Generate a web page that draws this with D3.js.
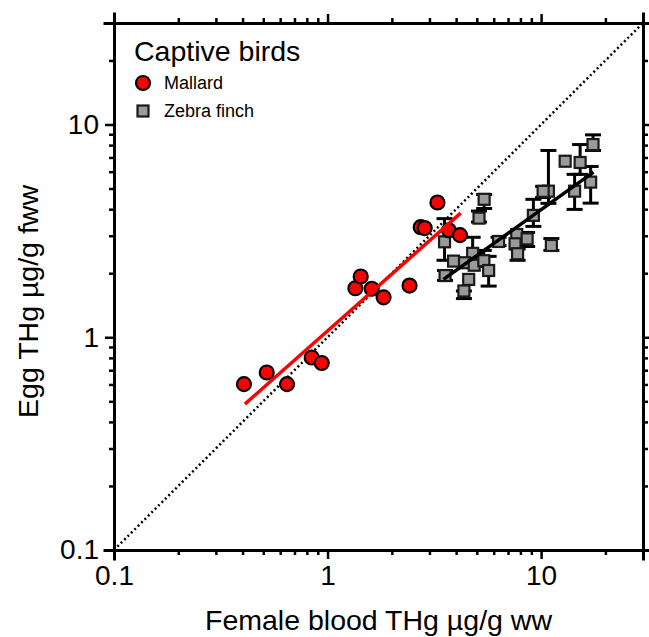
<!DOCTYPE html>
<html>
<head>
<meta charset="utf-8">
<script src="https://cdn.jsdelivr.net/npm/d3@7"></script>
<style>
  body { margin: 0; background: #fff; }
  text { font-family: Arial, "Liberation Sans", sans-serif; }
</style>
</head>
<body>
<div id="chart"></div>
<script>
// Mallard: female blood vs egg THg (one point per female)
let mallardBlood = [0.406, 0.519, 0.646, 0.843, 0.939, 1.35, 1.43, 1.61, 1.83, 2.42, 2.73, 2.85, 3.27, 3.70, 4.17];
let mallardEgg = [0.602, 0.683, 0.602, 0.803, 0.757, 1.70, 1.93, 1.69, 1.54, 1.75, 3.29, 3.26, 4.30, 3.18, 3.02];

// Zebra finch: means with error bar ends (low == high means no bar)
let finchBlood = [17.5, 12.96, 15.23, 17.06, 14.35, 10.82, 10.22, 9.20, 5.41, 5.12, 3.53, 6.32, 7.69, 8.60, 7.55, 7.76, 11.17, 4.78, 3.89, 4.38, 4.86, 5.39, 5.68, 3.55, 4.58, 4.35];
let finchEgg = [8.05, 6.72, 6.63, 5.36, 4.86, 4.86, 4.85, 3.74, 4.45, 3.63, 2.81, 2.82, 3.04, 2.90, 2.75, 2.47, 2.70, 2.48, 2.28, 2.24, 2.18, 2.29, 2.06, 1.95, 1.87, 1.65];
let finchLow = [7.55, 6.72, 5.83, 4.27, 3.99, 4.26, 4.54, 3.32, 4.03, 3.48, 2.30, 2.70, 3.04, 2.67, 2.75, 2.30, 2.56, 2.25, 2.28, 2.24, 2.18, 2.15, 1.74, 1.85, 1.87, 1.52];
let finchHigh = [8.94, 6.72, 8.05, 6.35, 5.83, 7.55, 5.12, 4.45, 4.69, 3.92, 3.61, 2.95, 3.04, 3.11, 2.75, 2.60, 2.91, 2.95, 2.28, 2.24, 2.18, 2.56, 2.40, 2.06, 1.87, 1.65];

// regression lines, end points
let mallardFitX = [0.41, 4.2];
let mallardFitY = [0.485, 3.83];
let finchFitX = [3.49, 17.6];
let finchFitY = [1.87, 5.97];

let tickValues = [0.1, 0.2, 0.3, 0.4, 0.5, 0.6, 0.7, 0.8, 0.9, 1, 2, 3, 4, 5, 6, 7, 8, 9, 10, 20, 30];
let majorTicks = [0.1, 1, 10];
let legendTitle = "Captive birds";
let legendLabels = ["Mallard", "Zebra finch"];

let w = 649;
let h = 637;
let plotLeft = 114, plotRight = 643, plotTop = 23, plotBottom = 550;

let x = d3.scaleLog().domain([0.1, 30]).range([plotLeft, plotRight]);
let y = d3.scaleLog().domain([0.1, 30]).range([plotBottom, plotTop]);

let svg = d3
  .select("#chart")
  .append("svg")
  .attr("width", w)
  .attr("height", h);

svg.append("rect").attr("width", w).attr("height", h).attr("fill", "#fff");

function fmt(d) {
  return majorTicks.includes(d) ? String(d) : "";
}

// draw an axis, then shorten the minor ticks
function drawAxis(axis, transform, attrName, sign, labels) {
  let g = svg
    .append("g")
    .attr("transform", transform)
    .call(axis.tickValues(tickValues).tickSizeOuter(0).tickSize(9).tickPadding(6)
      .tickFormat(labels ? fmt : ""));
  g.attr("font-family", null).attr("font-size", null);
  g.select(".domain").attr("stroke", "#000").attr("stroke-width", 3).attr("stroke-linecap", "square");
  g.selectAll(".tick line").attr("stroke", "#000").attr("stroke-width", 2.5);
  g.selectAll(".tick")
    .filter(function (d) { return !majorTicks.includes(d); })
    .select("line")
    .attr(attrName, sign * 5);
  g.selectAll(".tick text").attr("font-size", 28).attr("fill", "#000");
  return g;
}

drawAxis(d3.axisBottom(x), `translate(0,${plotBottom})`, "y2", 1, true);
drawAxis(d3.axisTop(x), `translate(0,${plotTop})`, "y2", -1, false);
drawAxis(d3.axisLeft(y), `translate(${plotLeft},0)`, "x2", -1, true);
drawAxis(d3.axisRight(y), `translate(${plotRight},0)`, "x2", 1, false);

// 1:1 line
svg
  .append("line")
  .attr("x1", x(0.1))
  .attr("y1", y(0.1))
  .attr("x2", x(30))
  .attr("y2", y(30))
  .attr("stroke", "#000")
  .attr("stroke-width", 2.5)
  .attr("stroke-dasharray", "2,2.8");

// zebra finch error bars
let finch = finchBlood.map(function (b, i) {
  return { blood: b, egg: finchEgg[i], low: finchLow[i], high: finchHigh[i] };
});
let cap = 8;
let bars = svg
  .selectAll(".errbar")
  .data(finch.filter(function (d) { return d.high > d.low; }))
  .enter()
  .append("g")
  .attr("class", "errbar")
  .attr("stroke", "#000")
  .attr("stroke-width", 3);
bars
  .append("line")
  .attr("x1", function (d) { return x(d.blood); })
  .attr("x2", function (d) { return x(d.blood); })
  .attr("y1", function (d) { return y(d.low); })
  .attr("y2", function (d) { return y(d.high); });
bars
  .append("line")
  .attr("x1", function (d) { return x(d.blood) - cap; })
  .attr("x2", function (d) { return x(d.blood) + cap; })
  .attr("y1", function (d) { return y(d.low); })
  .attr("y2", function (d) { return y(d.low); });
bars
  .append("line")
  .attr("x1", function (d) { return x(d.blood) - cap; })
  .attr("x2", function (d) { return x(d.blood) + cap; })
  .attr("y1", function (d) { return y(d.high); })
  .attr("y2", function (d) { return y(d.high); });

let sq = 11;
svg
  .selectAll(".finch")
  .data(finch)
  .enter()
  .append("rect")
  .attr("class", "finch")
  .attr("x", function (d) { return x(d.blood) - sq / 2; })
  .attr("y", function (d) { return y(d.egg) - sq / 2; })
  .attr("width", sq)
  .attr("height", sq)
  .attr("fill", "#9a9a9a")
  .attr("stroke", "#1a1a1a")
  .attr("stroke-width", 2.2);

let r = 7;
svg
  .selectAll(".mallard")
  .data(mallardBlood)
  .enter()
  .append("circle")
  .attr("class", "mallard")
  .attr("cx", function (d) { return x(d); })
  .attr("cy", function (d, i) { return y(mallardEgg[i]); })
  .attr("r", r)
  .attr("fill", "#ff0000")
  .attr("stroke", "#000")
  .attr("stroke-width", 2.2);

// fitted lines on top
svg
  .append("line")
  .attr("x1", x(mallardFitX[0]))
  .attr("y1", y(mallardFitY[0]))
  .attr("x2", x(mallardFitX[1]))
  .attr("y2", y(mallardFitY[1]))
  .attr("stroke", "#ff0000")
  .attr("stroke-width", 3.5);
svg
  .append("line")
  .attr("x1", x(finchFitX[0]))
  .attr("y1", y(finchFitY[0]))
  .attr("x2", x(finchFitX[1]))
  .attr("y2", y(finchFitY[1]))
  .attr("stroke", "#000")
  .attr("stroke-width", 3.5);

// legend
svg
  .append("text")
  .attr("x", 134)
  .attr("y", 61)
  .attr("font-size", 28.5)
  .text(legendTitle);
svg
  .append("circle")
  .attr("cx", 143)
  .attr("cy", 83)
  .attr("r", r)
  .attr("fill", "#ff0000")
  .attr("stroke", "#000")
  .attr("stroke-width", 2.2);
svg
  .append("rect")
  .attr("x", 143 - sq / 2)
  .attr("y", 111 - sq / 2)
  .attr("width", sq)
  .attr("height", sq)
  .attr("fill", "#9a9a9a")
  .attr("stroke", "#1a1a1a")
  .attr("stroke-width", 2.2);
svg
  .selectAll(".legend-label")
  .data(legendLabels)
  .enter()
  .append("text")
  .attr("class", "legend-label")
  .attr("x", 164)
  .attr("y", function (d, i) { return 83 + i * 28; })
  .attr("dy", "0.35em")
  .attr("font-size", 18)
  .text(function (d) { return d; });

// axis titles
svg
  .append("text")
  .attr("x", (plotLeft + plotRight) / 2)
  .attr("y", 630)
  .attr("text-anchor", "middle")
  .attr("font-size", 28.5)
  .text("Female blood THg µg/g ww");
svg
  .append("text")
  .attr("transform", `translate(38,${(plotTop + plotBottom) / 2 + 15}) rotate(-90)`)
  .attr("text-anchor", "middle")
  .attr("font-size", 28.5)
  .text("Egg THg µg/g fww");
</script>
</body>
</html>
